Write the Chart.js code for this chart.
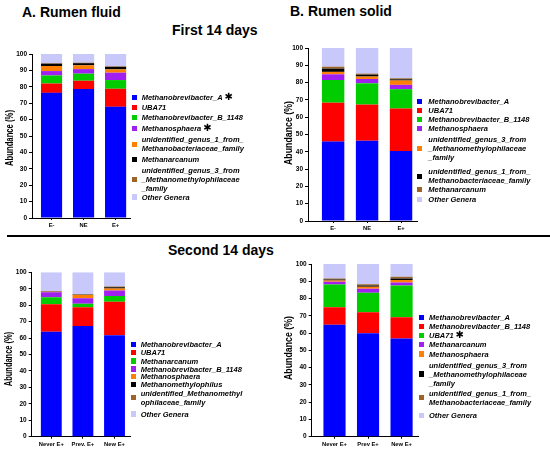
<!DOCTYPE html>
<html lang="en">
<head>
    <meta charset="UTF-8">
    <title>Rumen methanogen genera</title>
    <script src="https://cdn.jsdelivr.net/npm/chart.js"></script>
    <style>
        body {
            margin: 0;
            background: #fff;
            font-family: "Liberation Sans", Arial, sans-serif;
        }
        .page {
            position: relative;
            width: 550px;
            height: 451px;
            overflow: hidden;
        }
        .page canvas, .title, .ytitle, .leg, .sep {
            position: absolute;
        }
        .title {
            font-weight: bold;
            font-size: 14px;
            line-height: 16px;
            white-space: nowrap;
        }
        .ytitle {
            font-weight: bold;
            font-size: 11px;
            line-height: 12px;
            white-space: nowrap;
        }
        .leg {
            font-weight: bold;
            font-style: italic;
            font-size: 7.5px;
            line-height: 9px;
            white-space: pre;
        }
        .box {
            position: absolute;
            width: 5px;
            height: 5.5px;
        }
        .star {
            font-family: "DejaVu Sans", sans-serif;
            font-style: normal;
            font-size: 10px;
            line-height: 0;
            margin-left: 2px;
        }
        .sep {
            left: 7px;
            right: 0;
            top: 234.5px;
            height: 2px;
            background: #000;
        }
    </style>
</head>
<body>
<div class="page" id="page">
    <div class="title" style="left:22px; top:4px;">A. Rumen fluid</div>
    <div class="title" style="left:290px; top:3px;">B. Rumen solid</div>
    <div class="title" style="left:172px; top:22px;">First 14 days</div>
    <div class="sep"></div>
    <div class="title" style="left:168px; top:242px;">Second 14 days</div>
</div>

<script>
    // category labels
    const fluidFirstLabels = ['E-', 'NE', 'E+'];
    const solidFirstLabels = ['E-', 'NE', 'E+'];
    const fluidSecondLabels = ['Never E+', 'Prev. E+', 'New E+'];
    const solidSecondLabels = ['Never E+', 'Prev E+', 'New E+'];

    // genera, bottom of the stack first
    const fluidFirstGenera = ['Methanobrevibacter_A', 'UBA71', 'Methanobrevibacter_B_1148', 'Methanosphaera',
        'unidentified_genus_1_from_\nMethanobacteriaceae_family', 'Methanarcanum',
        'unidentified_genus_3_from\n_Methanomethylophilaceae\n_family', 'Other Genera'];
    const solidFirstGenera = ['Methanobrevibacter_A', 'UBA71', 'Methanobrevibacter_B_1148', 'Methanosphaera',
        'unidentified_genus_3_from\n_Methanomethylophilaceae\n_family',
        'unidentified_genus_1_from_\nMethanobacteriaceae_family', 'Methanarcanum', 'Other Genera'];
    const fluidSecondGenera = ['Methanobrevibacter_A', 'UBA71', 'Methanarcanum', 'Methanobrevibacter_B_1148',
        'Methanosphaera', 'Methanomethylophilus', 'unidentified_Methanomethyl\nophilaceae_family', 'Other Genera'];
    const solidSecondGenera = ['Methanobrevibacter_A', 'Methanobrevibacter_B_1148', 'UBA71', 'Methanarcanum',
        'Methanosphaera', 'unidentified_genus_3_from\n_Methanomethylophilaceae\n_family',
        'unidentified_genus_1_from_\nMethanobacteriaceae_family', 'Other Genera'];

    // genera marked with a star in the legend
    const fluidFirstStarred = [0, 3];
    const solidFirstStarred = [];
    const fluidSecondStarred = [];
    const solidSecondStarred = [2];

    // abundance (%) per genus, one value per group
    const fluidFirstValues = [
        [76.3, 78.6, 67.8],
        [5.7, 5.1, 11.0],
        [4.9, 4.3, 5.3],
        [2.7, 2.8, 4.5],
        [3.1, 2.3, 2.0],
        [1.4, 1.3, 1.6],
        [0.3, 0.3, 0.3],
        [5.6, 5.3, 7.5]
    ];
    const solidFirstValues = [
        [45.9, 46.4, 40.5],
        [22.5, 20.9, 24.5],
        [13.1, 12.3, 11.2],
        [3.3, 2.5, 2.5],
        [1.4, 1.4, 2.5],
        [1.9, 1.1, 0.7],
        [1.1, 0.6, 0.6],
        [10.8, 14.8, 17.5]
    ];
    const fluidSecondValues = [
        [63.9, 67.3, 61.7],
        [16.6, 11.4, 20.4],
        [4.3, 2.2, 3.5],
        [3.0, 3.3, 3.3],
        [0.4, 2.0, 1.3],
        [0.1, 0.1, 0.7],
        [0.4, 0.3, 0.4],
        [11.3, 13.4, 8.7]
    ];
    const solidSecondValues = [
        [64.8, 59.9, 56.8],
        [10.1, 12.1, 12.3],
        [13.2, 11.3, 18.4],
        [1.6, 2.3, 1.8],
        [0.8, 1.2, 1.4],
        [0.5, 0.7, 0.9],
        [0.6, 0.8, 1.0],
        [8.4, 11.7, 7.4]
    ];

    const yTicks = [0, 10, 20, 30, 40, 50, 60, 70, 80, 90, 100];
    const yTitle = 'Abundance (%)';

    const colors = ['#0000FF', '#FF0000', '#00CC00', '#A020F0', '#FF8000', '#000000', '#9C6428', '#C8C8FA'];
    const fontFamily = '"Liberation Sans", Arial, sans-serif';

    // where each panel sits on the page
    const panels = [
        {labels: fluidFirstLabels, genera: fluidFirstGenera, values: fluidFirstValues, starred: fluidFirstStarred,
            left: 0, top: 40, w: 132, h: 195, padTop: 14, padRight: 2, yW: 32, xH: 17, xMin: -0.61, xMax: 2.45,
            titleX: 9, titleY: 138, titleScale: 0.7,
            boxX: 131.7, textX: 141.7, legY: [97.3, 107.3, 117.3, 128.7, 144.3, 159.3, 179.3, 197]},
        {labels: solidFirstLabels, genera: solidFirstGenera, values: solidFirstValues, starred: solidFirstStarred,
            left: 276, top: 35, w: 144, h: 200, padTop: 13, padRight: 3, yW: 32, xH: 14, xMin: -0.74, xMax: 2.47,
            titleX: 287.5, titleY: 133, titleScale: 0.8,
            boxX: 417.3, textX: 428.3, legY: [101.7, 110.7, 119.3, 128.3, 148.3, 176.3, 189.7, 199.7]},
        {labels: fluidSecondLabels, genera: fluidSecondGenera, values: fluidSecondValues, starred: fluidSecondStarred,
            left: 0, top: 260, w: 134, h: 190, padTop: 12.3, padRight: 4, yW: 31.7, xH: 13.3, xMin: -0.62, xMax: 2.49,
            titleX: 8.3, titleY: 358.5, titleScale: 0.68,
            boxX: 130.7, textX: 140.7, legY: [344.3, 352.3, 361, 369, 376.7, 384.3, 397.7, 414]},
        {labels: solidSecondLabels, genera: solidSecondGenera, values: solidSecondValues, starred: solidSecondStarred,
            left: 276, top: 252, w: 144, h: 198, padTop: 12, padRight: 2, yW: 35.7, xH: 13.3, xMin: -0.68, xMax: 2.49,
            titleX: 287.5, titleY: 348, titleScale: 0.8,
            boxX: 419, textX: 429, legY: [317.7, 326.7, 335.3, 344.3, 354, 374, 397.7, 415.3]}
    ];

    const page = document.getElementById('page');

    function drawPanel(p) {
        const canvas = document.createElement('canvas');
        canvas.width = p.w;
        canvas.height = p.h;
        canvas.style.left = p.left + 'px';
        canvas.style.top = p.top + 'px';
        page.appendChild(canvas);

        new Chart(canvas, {
            type: 'bar',
            data: {
                datasets: p.genera.map((g, k) => ({
                    label: g.replace(/\n/g, ''),
                    data: p.values[k].map((v, i) => ({x: i, y: v})),
                    backgroundColor: colors[k],
                    borderWidth: 0,
                    stack: 'all',
                    barPercentage: 0.66,
                    categoryPercentage: 1
                }))
            },
            options: {
                responsive: false,
                animation: false,
                layout: {autoPadding: false, padding: {top: p.padTop, right: p.padRight, left: 0, bottom: 0}},
                plugins: {legend: {display: false}, tooltip: {enabled: false}},
                scales: {
                    x: {
                        type: 'linear',
                        offset: false,
                        min: p.xMin,
                        max: p.xMax,
                        afterBuildTicks: s => { s.ticks = p.labels.map((l, i) => ({value: i})); },
                        afterFit: s => { s.height = p.xH; },
                        ticks: {
                            callback: v => p.labels[v],
                            font: {family: fontFamily, size: 5.8, weight: 'bold'},
                            color: '#000',
                            padding: 2,
                            maxRotation: 0,
                            autoSkip: false
                        },
                        grid: {drawOnChartArea: false, offset: false, tickLength: 2, color: '#000'},
                        border: {color: '#000', width: 1}
                    },
                    y: {
                        stacked: true,
                        min: 0,
                        max: 100,
                        afterBuildTicks: s => { s.ticks = yTicks.map(v => ({value: v})); },
                        afterFit: s => { s.width = p.yW; },
                        ticks: {
                            font: {family: fontFamily, size: 6.5, weight: 'bold'},
                            color: '#000',
                            padding: 2
                        },
                        grid: {drawOnChartArea: false, tickLength: 3, color: '#000'},
                        border: {color: '#000', width: 1}
                    }
                }
            }
        });

        // rotated axis title
        const t = document.createElement('div');
        t.className = 'ytitle';
        t.textContent = yTitle;
        t.style.left = p.titleX + 'px';
        t.style.top = p.titleY + 'px';
        t.style.transform = 'translate(-50%, -50%) rotate(-90deg) scaleX(' + p.titleScale + ')';
        page.appendChild(t);

        // legend
        p.genera.forEach((g, k) => {
            const lines = g.split('\n').length;
            const box = document.createElement('div');
            box.className = 'box';
            box.style.background = colors[k];
            box.style.left = p.boxX + 'px';
            box.style.top = (p.legY[k] - 2.75) + 'px';
            page.appendChild(box);

            const item = document.createElement('div');
            item.className = 'leg';
            item.style.left = p.textX + 'px';
            item.style.top = (p.legY[k] - lines * 4.5) + 'px';
            item.textContent = g;
            if (p.starred.includes(k)) {
                const s = document.createElement('span');
                s.className = 'star';
                s.textContent = '\u2731';
                item.appendChild(s);
            }
            page.appendChild(item);
        });
    }

    panels.forEach(drawPanel);
</script>
</body>
</html>
